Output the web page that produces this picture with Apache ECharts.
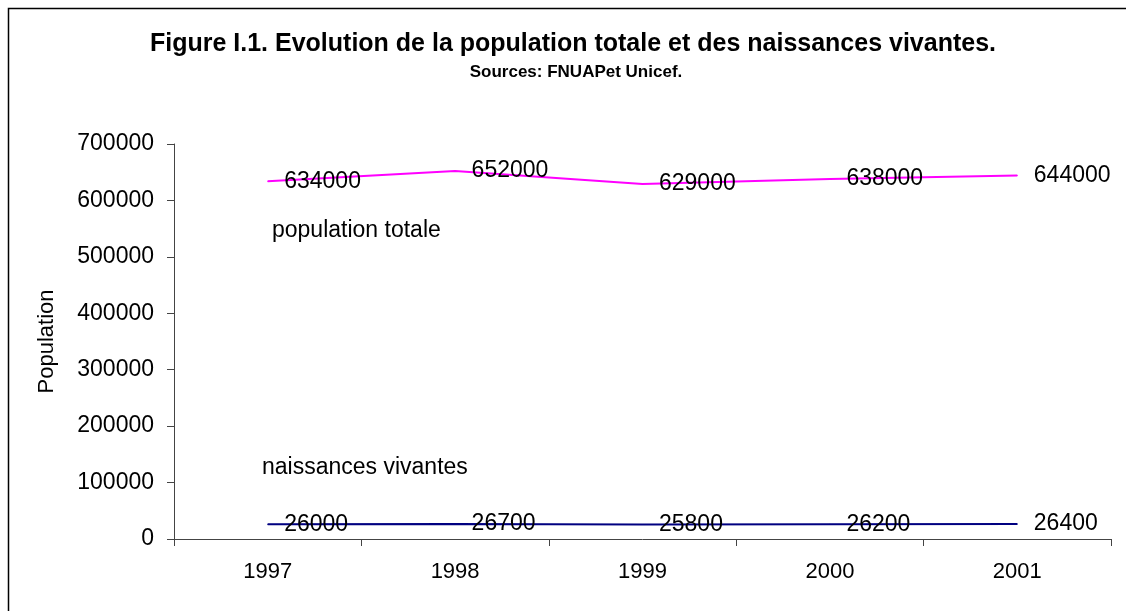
<!DOCTYPE html>
<html lang="fr">
<head>
    <meta charset="UTF-8">
    <title>Evolution de la population</title>
    <script src="https://cdn.jsdelivr.net/npm/echarts@6/dist/echarts.min.js"></script>
    <style>
        html, body { margin: 0; padding: 0; background: #fff; }
        #chart { width: 1126px; height: 611px; }
    </style>
</head>
<body>
    <div id="chart"></div>
    <script>
        // données
        var years = ['1997', '1998', '1999', '2000', '2001'];
        var populationTotale = [634000, 652000, 629000, 638000, 644000];
        var naissancesVivantes = [26000, 26700, 25800, 26200, 26400];

        var font = "'Liberation Sans', Arial, sans-serif";

        var myChart = echarts.init(document.getElementById('chart'));

        var option = {
            backgroundColor: '#fff',
            animation: false,
            title: [
                {
                    text: 'Figure I.1. Evolution de la population totale et des naissances vivantes.',
                    left: 568,
                    top: 27,
                    textAlign: 'center',
                    textStyle: { fontFamily: font, fontSize: 25, fontWeight: 'bold', color: '#000' }
                },
                {
                    text: 'Sources: FNUAPet Unicef.',
                    left: 571,
                    top: 59,
                    textAlign: 'center',
                    textStyle: { fontFamily: font, fontSize: 17, fontWeight: 'bold', color: '#000' }
                }
            ],
            grid: {
                left: 174,
                right: 15,
                top: 144,
                bottom: 72
            },
            xAxis: {
                type: 'category',
                data: years,
                boundaryGap: true,
                axisLine: { lineStyle: { color: '#444', width: 1 } },
                axisTick: { show: true, length: 7, lineStyle: { color: '#444' } },
                axisLabel: { margin: 22, fontFamily: font, fontSize: 22, color: '#000' }
            },
            yAxis: {
                type: 'value',
                min: 0,
                max: 700000,
                interval: 100000,
                name: 'Population',
                nameLocation: 'middle',
                nameRotate: 90,
                nameGap: 116,
                nameTextStyle: { fontFamily: font, fontSize: 22, color: '#000' },
                axisLine: { show: true, lineStyle: { color: '#444', width: 1 } },
                axisTick: { show: true, length: 7, lineStyle: { color: '#444' } },
                splitLine: { show: false },
                axisLabel: {
                    margin: 20,
                    fontFamily: font,
                    fontSize: 23,
                    color: '#000',
                    formatter: function (v) { return String(v); }
                }
            },
            series: [
                {
                    name: 'population totale',
                    type: 'line',
                    data: populationTotale,
                    symbol: 'circle',
                    symbolSize: 1,
                    lineStyle: { color: '#ff00ff', width: 2 },
                    itemStyle: { color: '#ff00ff' },
                    label: {
                        show: true,
                        position: 'right',
                        distance: 16,
                        fontFamily: font,
                        fontSize: 23,
                        color: '#000'
                    }
                },
                {
                    name: 'naissances vivantes',
                    type: 'line',
                    data: naissancesVivantes,
                    symbol: 'circle',
                    symbolSize: 1,
                    lineStyle: { color: '#000080', width: 2 },
                    itemStyle: { color: '#000080' },
                    label: {
                        show: true,
                        position: 'right',
                        distance: 16,
                        fontFamily: font,
                        fontSize: 23,
                        color: '#000'
                    }
                }
            ],
            graphic: [
                {
                    type: 'rect',
                    shape: { x: 8.5, y: 8.5, width: 1130, height: 620 },
                    style: { fill: 'none', stroke: '#000', lineWidth: 1.5 },
                    silent: true
                },
                {
                    type: 'text',
                    left: 272,
                    top: 219,
                    style: { text: 'population totale', font: '23px ' + font, fill: '#000' }
                },
                {
                    type: 'text',
                    left: 262,
                    top: 456,
                    style: { text: 'naissances vivantes', font: '23px ' + font, fill: '#000' }
                }
            ]
        };

        myChart.setOption(option);
    </script>
</body>
</html>
